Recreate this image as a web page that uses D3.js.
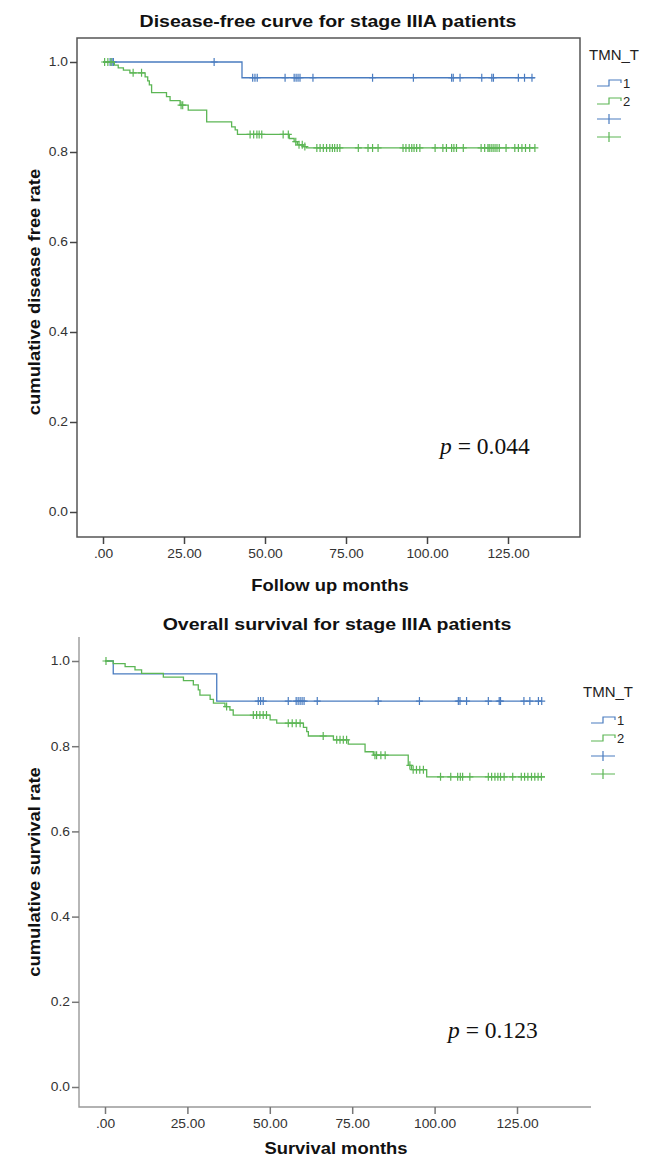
<!DOCTYPE html>
<html><head><meta charset="utf-8">
<script src="https://cdn.jsdelivr.net/npm/d3@7"></script>
<style>body{margin:0;background:#fff}svg{display:block}</style>
</head><body>
<svg id="chart" width="653" height="1160"></svg>
<script>
// ---------- data ----------
const legendTitle = "TMN_T";
const groups = ["1", "2"];
const yTicks = [0, 0.2, 0.4, 0.6, 0.8, 1.0];
const xTicks = [0, 25, 50, 75, 100, 125];

// Disease-free survival, T1
const dfsT1Times = [0, 42.9];
const dfsT1Surv  = [1.0, 0.965];
const dfsT1End   = 133.3;
const dfsT1Censor = [2.2, 2.8, 3.2, 34.3, 46.2, 46.9, 47.6, 56.2, 59.0, 59.6, 60.2, 60.8, 64.8, 83.2, 95.8,
  107.6, 108.1, 110.2, 116.9, 120.0, 120.5, 128.2, 130.1, 132.4];
// Disease-free survival, T2
const dfsT2Times = [0, 3.5, 4.7, 6.3, 8.3, 13.0, 13.8, 14.3, 15.0, 19.6, 20.7, 23.8, 26.3, 32.0, 39.7, 40.8, 41.5, 57.5, 59.0, 60.0, 61.8, 62.8];
const dfsT2Surv  = [1.0, 0.993, 0.987, 0.982, 0.976, 0.967, 0.958, 0.949, 0.932, 0.923, 0.914, 0.904, 0.893, 0.867, 0.856, 0.849, 0.839, 0.830, 0.823, 0.816, 0.812, 0.809];
const dfsT2End   = 133.3;
const dfsT2Censor = [0.5, 1.5, 2.5, 9.3, 11.9, 24.1, 24.6, 45.4, 46.5, 47.5, 48.2, 49.0, 55.6, 57.2, 59.5, 60.5, 61.5, 62.3,
  66.0, 67.0, 68.0, 69.0, 70.0, 70.8, 71.5, 72.3, 73.1, 78.8, 81.8, 83.2, 84.9, 92.6, 93.5, 94.5, 95.3, 96.0, 96.8, 97.8,
  102.5, 104.9, 106.0, 107.6, 108.3, 109.1, 111.2, 116.7, 117.8, 118.8, 119.2, 119.8, 120.4, 121.0, 121.6, 122.3, 124.4,
  127.1, 128.2, 129.3, 130.4, 131.7, 133.3];

// Overall survival, T1
const osT1Times = [0, 2.5, 33.9];
const osT1Surv  = [1.0, 0.970, 0.906];
const osT1End   = 132.5;
const osT1Censor = [46.5, 47.2, 48.0, 55.6, 58.0, 58.6, 59.2, 59.8, 60.4, 64.4, 82.9, 95.4, 107.2, 107.7, 109.7, 116.3,
  119.6, 120.0, 127.1, 128.9, 131.5, 132.5];
// Overall survival, T2
const osT2Times = [0, 2.5, 6.1, 9.1, 11.1, 17.7, 23.8, 26.8, 28.3, 28.8, 31.9, 32.9, 36.4, 37.9, 38.9, 50.1, 52.1, 60.2, 61.2, 61.7,
  69.3, 73.8, 78.9, 81.4, 92.0, 93.0, 97.6];
const osT2Surv  = [1.0, 0.994, 0.987, 0.979, 0.971, 0.962, 0.954, 0.944, 0.932, 0.920, 0.910, 0.901, 0.893, 0.885, 0.873, 0.862, 0.854,
  0.844, 0.834, 0.824, 0.815, 0.805, 0.787, 0.779, 0.755, 0.745, 0.728];
const osT2End   = 133.5;
const osT2Censor = [0.3, 36.9, 45.0, 46.0, 47.0, 48.0, 49.0, 55.6, 56.8, 58.0, 59.2, 66.2, 70.3, 71.3, 72.3, 73.3, 81.9, 82.4, 83.7, 85.0,
  92.5, 93.5, 94.5, 95.5, 96.6, 101.8, 104.9, 107.0, 107.8, 108.5, 110.7, 116.3, 117.3, 118.3, 119.2, 120.0, 121.1, 123.7,
  126.3, 127.3, 128.3, 129.4, 130.4, 131.4, 132.4];

// ---------- styling / layout ----------
const colors = {"1": "#4a7cc0", "2": "#5cb655"};
const FONT = "'Liberation Sans', Arial, sans-serif";
const SERIF = "'Liberation Serif', 'Times New Roman', serif";
const WIDEN = 1.15; // reference sans text is rendered wider than Arial
const svg = d3.select("#chart");

const panels = [
  {
    title: "Disease-free curve for stage IIIA patients", titleX: 328, titleY: 27,
    xLabel: "Follow up months", xLabelX: 330, xLabelY: 591,
    yLabel: "cumulative disease free rate", yLabelY: 292,
    x0: 103, x1: 508, y0: 512, y1: 62,
    frame: {l: 77, r: 580, t: 38, b: 537, full: true, color: "#555", tick: "#444"},
    pText: "0.044", pX: 440, pY: 454,
    legend: {x: 589, y: 60, sx: 597},
    series: [
      {g: "1", times: dfsT1Times, surv: dfsT1Surv, end: dfsT1End, censor: dfsT1Censor},
      {g: "2", times: dfsT2Times, surv: dfsT2Surv, end: dfsT2End, censor: dfsT2Censor}
    ]
  },
  {
    title: "Overall survival for stage IIIA patients", titleX: 337, titleY: 630,
    xLabel: "Survival months", xLabelX: 336, xLabelY: 1154,
    yLabel: "cumulative survival rate", yLabelY: 872,
    x0: 105, x1: 517, y0: 1087, y1: 661,
    frame: {l: 79, r: 591, t: 637, b: 1107, full: false, color: "#999", tick: "#777"},
    pText: "0.123", pX: 448, pY: 1038,
    legend: {x: 583, y: 697, sx: 591},
    series: [
      {g: "1", times: osT1Times, surv: osT1Surv, end: osT1End, censor: osT1Censor},
      {g: "2", times: osT2Times, surv: osT2Surv, end: osT2End, censor: osT2Censor}
    ]
  }
];

function stepValue(times, surv, t) {
  let v = surv[0];
  for (let i = 0; i < times.length; i++) if (times[i] <= t) v = surv[i];
  return v;
}

function wideText(g, x, y, rot, txt, size) {
  return g.append("text")
    .attr("transform", `translate(${x},${y}) rotate(${rot}) scale(${WIDEN},1)`)
    .attr("text-anchor", "middle")
    .style("font-family", FONT).style("font-size", size + "px").style("font-weight", "bold")
    .attr("fill", "#111").text(txt);
}

panels.forEach(p => {
  const x = d3.scaleLinear().domain([0, 125]).range([p.x0, p.x1]);
  const y = d3.scaleLinear().domain([0, 1]).range([p.y0, p.y1]);
  const g = svg.append("g");
  const f = p.frame;

  // title
  wideText(g, p.titleX, p.titleY, 0, p.title, 17);

  // frame / axes lines
  if (f.full) {
    g.append("rect").attr("x", f.l).attr("y", f.t).attr("width", f.r - f.l).attr("height", f.b - f.t)
      .attr("fill", "none").attr("stroke", f.color).attr("stroke-width", 1.5);
  } else {
    g.append("path").attr("d", `M${f.l},${f.t}V${f.b}H${f.r}`)
      .attr("fill", "none").attr("stroke", f.color).attr("stroke-width", 1.4);
  }

  // y axis
  const yAxis = d3.axisLeft(y).tickValues(yTicks).tickSize(7).tickPadding(2).tickFormat(d => d.toFixed(1));
  const ya = g.append("g").attr("transform", `translate(${f.l},0)`).call(yAxis);
  // x axis
  const xAxis = d3.axisBottom(x).tickValues(xTicks).tickSize(7).tickPadding(5)
    .tickFormat(d => d === 0 ? ".00" : d.toFixed(2));
  const xa = g.append("g").attr("transform", `translate(0,${f.b})`).call(xAxis);
  [ya, xa].forEach(a => {
    a.select(".domain").remove();
    a.selectAll(".tick line").attr("stroke", f.tick).attr("stroke-width", 1.5);
    a.selectAll(".tick text").style("font-family", FONT).style("font-size", "12px").attr("fill", "#333")
      .attr("transform", `scale(${WIDEN},1)`);
  });
  ya.selectAll(".tick text").attr("x", -9 / WIDEN);

  // axis titles
  wideText(g, p.xLabelX, p.xLabelY, 0, p.xLabel, 16);
  wideText(g, 40, p.yLabelY, -90, p.yLabel, 16);

  // curves
  const line = d3.line().x(d => x(d[0])).y(d => y(d[1])).curve(d3.curveStepAfter);
  p.series.forEach(s => {
    const pts = s.times.map((t, i) => [t, s.surv[i]]);
    pts.push([s.end, s.surv[s.surv.length - 1]]);
    g.append("path").attr("d", line(pts)).attr("fill", "none")
      .attr("stroke", colors[s.g]).attr("stroke-width", 1.3);
    g.append("g").selectAll("path").data(s.censor).join("path")
      .attr("d", t => {
        const cx = x(t), cy = y(stepValue(s.times, s.surv, t));
        return `M${cx},${cy - 4}V${cy + 4}M${cx - 3.5},${cy}H${cx + 3.5}`;
      })
      .attr("stroke", colors[s.g]).attr("stroke-width", 1.2).attr("fill", "none");
  });

  // p value
  const pt = g.append("text").attr("x", p.pX).attr("y", p.pY)
    .style("font-family", SERIF).style("font-size", "23.5px").attr("fill", "#111");
  pt.append("tspan").style("font-style", "italic").text("p");
  pt.append("tspan").text(" = " + p.pText);

  // legend
  const L = p.legend;
  g.append("text").attr("x", L.x).attr("y", L.y).style("font-family", FONT).style("font-size", "15px")
    .attr("fill", "#222").text(legendTitle);
  groups.forEach((grp, i) => {
    const cy = L.y + 23 + i * 18;
    const sx = L.sx;
    g.append("path").attr("d", `M${sx},${cy + 3}H${sx + 12}V${cy - 3}H${sx + 24}V${cy}`)
      .attr("fill", "none").attr("stroke", colors[grp]).attr("stroke-width", 1.2);
    g.append("text").attr("x", sx + 26).attr("y", cy + 5).style("font-family", FONT).style("font-size", "13px")
      .attr("fill", "#222").text(grp);
  });
  groups.forEach((grp, i) => {
    const cy = L.y + 23 + (i + 2) * 18;
    const cx = L.sx + 12;
    g.append("path").attr("d", `M${cx - 12},${cy}H${cx + 12}M${cx},${cy - 5}V${cy + 5}`)
      .attr("fill", "none").attr("stroke", colors[grp]).attr("stroke-width", 1.2);
  });
});
</script>
</body></html>
